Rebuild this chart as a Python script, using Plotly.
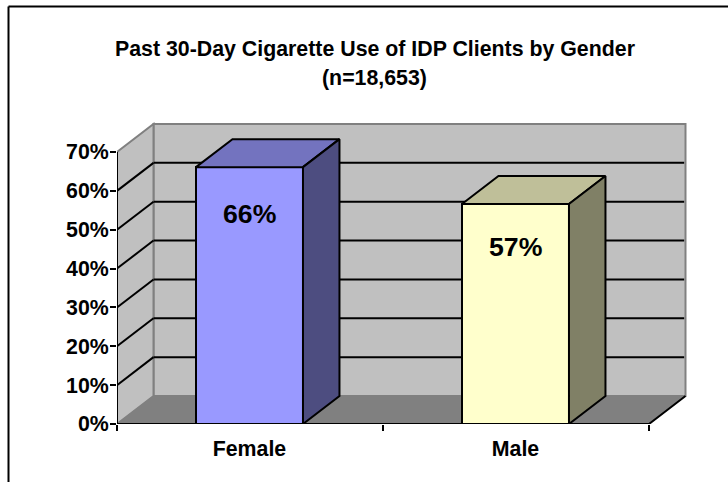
import plotly.graph_objects as go

categories = ["Female", "Male"]
values = [66.1, 56.6]
y_ticks = [0, 10, 20, 30, 40, 50, 60, 70]
y_labels = ["0%", "10%", "20%", "30%", "40%", "50%", "60%", "70%"]
title_lines = ["Past 30-Day Cigarette Use of IDP Clients by Gender", "(n=18,653)"]

W, H = 728, 494
HV = 482               # height the page actually lays the figure out at
L, R, T, B = 117, 689, 122, 424
PX_X = 266.0           # px per category
PX_Y = 3.886           # px per percent
DX = 36.5 / PX_X       # depth offset in x units
DY = 28.0 / PX_Y       # depth offset in y units
XMAX = (R - L) / PX_X
YMAX = (B - T) / PX_Y
FRONT_W = 2.0
BAR_W = 107 / PX_X
FONT = "Liberation Sans, Arial, sans-serif"
centers = [i + 0.5 - 0.002 for i in range(len(categories))]
front_cols = ["#9999FF", "#FFFFCC"]
top_cols = ["#7373BF", "#BFBF99"]
side_cols = ["#4D4D80", "#808066"]
label_drop = [12.0, 11.0]

fig = go.Figure()

# front faces
fig.add_trace(go.Bar(x=centers, y=values, width=BAR_W, cliponaxis=False,
                     marker=dict(color=front_cols, line=dict(color="black", width=2)),
                     hoverinfo="skip", showlegend=False))

# top and side faces
for c, v, tc, sc in zip(centers, values, top_cols, side_cols):
    x0, x1 = c - BAR_W / 2, c + BAR_W / 2
    fig.add_trace(go.Scatter(x=[x0, x0 + DX, x1 + DX, x1, x0], y=[v, v + DY, v + DY, v, v],
                             mode="lines", fill="toself", fillcolor=tc, cliponaxis=False,
                             line=dict(color="black", width=2), hoverinfo="skip", showlegend=False))
    fig.add_trace(go.Scatter(x=[x1, x1 + DX, x1 + DX, x1, x1], y=[v, v + DY, DY, 0, v],
                             mode="lines", fill="toself", fillcolor=sc, cliponaxis=False,
                             line=dict(color="black", width=2), hoverinfo="skip", showlegend=False))

# front edge of floor and value axis line
fig.add_trace(go.Scatter(x=[0, FRONT_W, FRONT_W + DX], y=[0, 0, DY], mode="lines", cliponaxis=False,
                         line=dict(color="black", width=2), hoverinfo="skip", showlegend=False))
fig.add_trace(go.Scatter(x=[0, 0], y=[0, y_ticks[-1]], mode="lines", cliponaxis=False,
                         line=dict(color="black", width=2), hoverinfo="skip", showlegend=False))

shapes = []
def poly(pts, fill, line_color, width=1.5):
    path = "M " + " L ".join(f"{x},{y}" for x, y in pts) + " Z"
    shapes.append(dict(type="path", path=path, xref="x", yref="y", fillcolor=fill,
                       line=dict(color=line_color, width=width), layer="below"))

top = y_ticks[-1]
poly([(DX, DY), (DX, top + DY), (FRONT_W + DX, top + DY), (FRONT_W + DX, DY)], "#C0C0C0", "#808080", 2)
poly([(0, 0), (0, top), (DX, top + DY), (DX, DY)], "#C0C0C0", "#808080", 2)
poly([(0, 0), (DX, DY), (FRONT_W + DX, DY), (FRONT_W, 0)], "#808080", "#808080", 1)

for t in y_ticks[1:-1]:
    shapes.append(dict(type="line", xref="x", yref="y", x0=0, y0=t, x1=DX, y1=t + DY,
                       line=dict(color="black", width=2), layer="below"))
    shapes.append(dict(type="line", xref="x", yref="y", x0=DX, y0=t + DY, x1=FRONT_W + DX - 0.005, y1=t + DY,
                       line=dict(color="black", width=2), layer="below"))

# page frame
shapes.append(dict(type="line", xref="paper", yref="paper", x0=8.5 / W, x1=8.5 / W, y0=0, y1=1 - 6.5 / HV,
                   line=dict(color="black", width=2)))
shapes.append(dict(type="line", xref="paper", yref="paper", x0=8.5 / W, x1=1, y0=1 - 6.5 / HV, y1=1 - 6.5 / HV,
                   line=dict(color="black", width=2)))

annotations = []
for line, py in zip(title_lines, [49, 78]):
    annotations.append(dict(text=f"<b>{line}</b>", xref="paper", yref="paper", x=375 / W, y=1 - py / HV,
                            xanchor="center", yanchor="middle", showarrow=False,
                            font=dict(family=FONT, size=21.33, color="black")))
for c, v, d in zip(centers, values, label_drop):
    annotations.append(dict(text=f"<b>{v:.0f}%</b>", x=c, y=v - d, xref="x", yref="y",
                            xanchor="center", yanchor="middle", showarrow=False,
                            font=dict(family=FONT, size=26.67, color="black")))

fig.update_layout(
    width=W, height=H, margin=dict(l=0, r=0, t=0, b=0), autosize=False,
    paper_bgcolor="white", plot_bgcolor="white", showlegend=False, bargap=0,
    shapes=shapes, annotations=annotations,
    xaxis=dict(domain=[L / W, R / W], range=[0, XMAX], tickmode="array",
               tickvals=centers, ticktext=[f"<b>{c}</b>" for c in categories],
               ticks="", showgrid=False, zeroline=False, showline=False, ticklabelstandoff=10,
               tickfont=dict(family=FONT, size=21.33, color="black"),
               minor=dict(tickmode="array", tickvals=[0, 1, 2], ticks="outside", ticklen=6,
                          tickwidth=2, tickcolor="black", showgrid=False)),
    yaxis=dict(domain=[1 - B / HV, 1 - T / HV], range=[0, YMAX], tickmode="array",
               tickvals=y_ticks, ticktext=[f"<b>{s}</b>" for s in y_labels],
               ticks="outside", ticklen=6, tickwidth=2, tickcolor="black",
               showgrid=False, zeroline=False, showline=False, ticklabelstandoff=-3,
               tickfont=dict(family=FONT, size=21.33, color="black")),
)

fig.write_html("out.html", config=dict(displayModeBar=False, responsive=False),
               post_script="document.body.style.margin='0';")
